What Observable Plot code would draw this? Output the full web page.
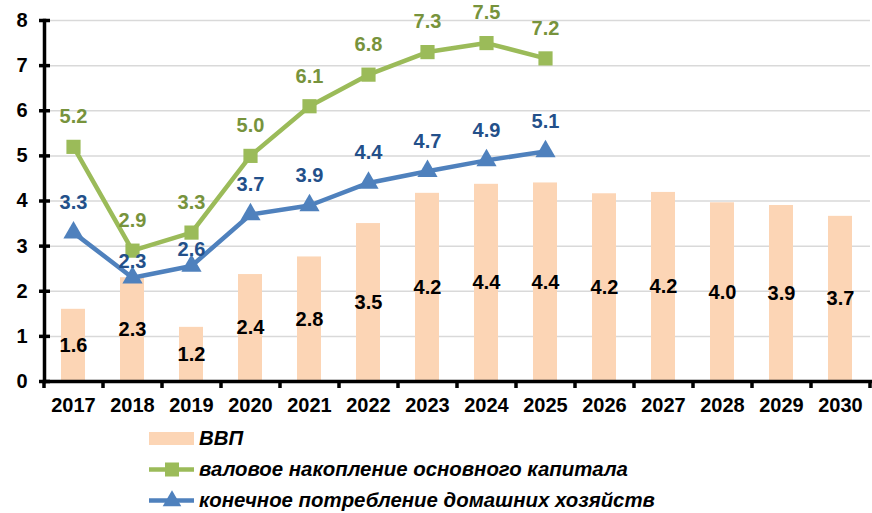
<!DOCTYPE html>
<html>
<head>
<meta charset="utf-8">
<script src="https://cdn.jsdelivr.net/npm/d3@7"></script>
<script src="https://cdn.jsdelivr.net/npm/@observablehq/plot@0.6"></script>
<style>
  body { margin: 0; background: #fff; font-family: "Liberation Sans", Arial, sans-serif; }
  #legend { margin-left: 149px; padding-top: 3px; }
  .row { display: flex; align-items: center; height: 31px; }
  .row span { font-weight: bold; font-style: italic; font-size: 20.4px; color: #000; margin-left: 5px; }
  .row svg { display: block; }
</style>
</head>
<body>
<div id="chart"></div>
<div id="legend"></div>
<script>
const years = ["2017","2018","2019","2020","2021","2022","2023","2024","2025","2026","2027","2028","2029","2030"];
const gdp = [1.6, 2.3, 1.2, 2.37, 2.76, 3.5, 4.17, 4.37, 4.4, 4.16, 4.19, 3.96, 3.9, 3.66];
const investYears = ["2017","2018","2019","2020","2021","2022","2023","2024","2025"];
const invest = [5.2, 2.9, 3.3, 5.0, 6.1, 6.8, 7.3, 7.5, 7.16];
const consumption = [3.3, 2.3, 2.56, 3.7, 3.9, 4.4, 4.66, 4.9, 5.1];
const yTicks = [0, 1, 2, 3, 4, 5, 6, 7, 8];
const legendLabels = ["ВВП", "валовое накопление основного капитала", "конечное потребление домашних хозяйств"];
// consumption labels placed closer to their markers (under the green line)
const closeLabelYears = ["2018", "2019"];

const colors = { bar: "#FCD5B5", green: "#9BBB59", greenText: "#77933C", blue: "#4F81BD", blueText: "#23508A" };

const gdpData = years.map((y, i) => ({year: y, value: gdp[i]}));
const invData = investYears.map((y, i) => ({year: y, value: invest[i]}));
const conData = investYears.map((y, i) => ({year: y, value: consumption[i]}));

const W = 872, H = 420, mL = 44, mR = 2, mT = 20, mB = 39;
const step = (W - mL - mR) / years.length;
const font = "Liberation Sans, Arial, sans-serif";
const fs = 20;

const chart = Plot.plot({
  width: W, height: H,
  marginLeft: mL, marginRight: mR, marginTop: mT, marginBottom: mB,
  style: { fontFamily: font, fontWeight: "bold", fontSize: fs + "px", color: "#000", background: "#fff", overflow: "visible" },
  x: { type: "band", domain: years, paddingInner: 0.59, paddingOuter: 0.295, align: 0.5, label: null },
  y: { domain: [0, 8], label: null },
  marks: [
    Plot.ruleY(yTicks.filter(d => d > 0), { stroke: "#D9D9D9", strokeWidth: 1.5 }),
    Plot.barY(gdpData, { x: "year", y: "value", fill: colors.bar }),
    Plot.text(gdpData, { x: "year", y: d => d.value / 2, text: d => d.value.toFixed(1), fill: "#000", fontSize: fs, fontWeight: "bold" }),
    Plot.frame({ anchor: "left", stroke: "#000", strokeWidth: 3.5 }),
    Plot.frame({ anchor: "bottom", stroke: "#000", strokeWidth: 3.5 }),
    Plot.axisY({ ticks: yTicks, tickSize: 5, tickPadding: 12, strokeWidth: 3.5, fontSize: fs, fontWeight: "bold", tickFormat: d => String(d), label: null }),
    Plot.axisY({ ticks: yTicks, tickSize: -6, strokeWidth: 3.5, tickFormat: () => "", label: null }),
    Plot.axisX({ tickSize: 0, tickPadding: 16, fontSize: fs, fontWeight: "bold", label: null }),
    Plot.ruleX(years, { x: d => d, dx: -step / 2, y1: 0, y2: 0, insetBottom: -7, stroke: "#000", strokeWidth: 3.5 }),
    Plot.ruleX([years[years.length - 1]], { x: d => d, dx: step / 2, y1: 0, y2: 0, insetBottom: -7, stroke: "#000", strokeWidth: 3.5 }),
    Plot.line(invData, { x: "year", y: "value", stroke: colors.green, strokeWidth: 4.5 }),
    Plot.dot(invData, { x: "year", y: "value", symbol: "square", r: 8, fill: colors.green }),
    Plot.line(conData, { x: "year", y: "value", stroke: colors.blue, strokeWidth: 4.5 }),
    Plot.dot(conData, { x: "year", y: "value", symbol: "triangle", r: 7.5, fill: colors.blue }),
    Plot.text(invData, { x: "year", y: "value", text: d => d.value.toFixed(1), dy: -30, fill: colors.greenText, fontSize: fs, fontWeight: "bold" }),
    Plot.text(conData, { filter: d => !closeLabelYears.includes(d.year), x: "year", y: "value", text: d => d.value.toFixed(1), dy: -30, fill: colors.blueText, fontSize: fs, fontWeight: "bold" }),
    Plot.text(conData, { filter: d => closeLabelYears.includes(d.year), x: "year", y: "value", text: d => d.value.toFixed(1), dy: -16, fill: colors.blueText, fontSize: fs, fontWeight: "bold" })
  ]
});
document.getElementById("chart").appendChild(chart);

// legend
const legend = d3.select("#legend");
const swatches = [
  (s) => { s.append("rect").attr("x", 0).attr("y", 6).attr("width", 45).attr("height", 13).attr("fill", colors.bar); },
  (s) => {
    s.append("line").attr("x1", 0).attr("x2", 45).attr("y1", 12.5).attr("y2", 12.5).attr("stroke", colors.green).attr("stroke-width", 4.5);
    s.append("rect").attr("x", 16).attr("y", 5.5).attr("width", 14).attr("height", 14).attr("fill", colors.green);
  },
  (s) => {
    s.append("line").attr("x1", 0).attr("x2", 45).attr("y1", 12.5).attr("y2", 12.5).attr("stroke", colors.blue).attr("stroke-width", 4.5);
    s.append("path").attr("d", d3.symbol(d3.symbolTriangle, 150)()).attr("transform", "translate(23,13)").attr("fill", colors.blue);
  }
];
legendLabels.forEach((lab, i) => {
  const row = legend.append("div").attr("class", "row");
  const s = row.append("svg").attr("width", 45).attr("height", 25);
  swatches[i](s);
  row.append("span").text(lab);
});
</script>
</body>
</html>
